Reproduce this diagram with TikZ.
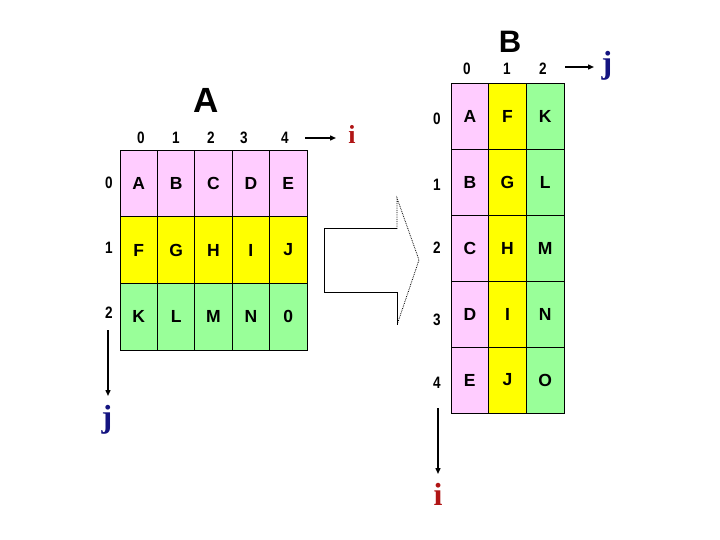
\documentclass[tikz,border=0pt]{standalone}
\usepackage{fontspec}
\setmainfont{Liberation Sans}
\newfontfamily\numfont[FakeStretch=0.82]{Liberation Sans}
\newfontfamily\serifb{Liberation Serif}
\usetikzlibrary{arrows.meta}
\definecolor{cpink}{HTML}{FFCCFF}
\definecolor{cyellow}{HTML}{FFFF00}
\definecolor{cgreen}{HTML}{99FF99}
\definecolor{cnavy}{HTML}{141480}
\definecolor{cred}{HTML}{B01515}
\colorlet{rowc0}{cpink}\colorlet{rowc1}{cyellow}\colorlet{rowc2}{cgreen}
\begin{document}
\begin{tikzpicture}[x=1pt,y=-1pt,
  cellA/.style={draw=black, line width=0.8pt, minimum width=37.4pt, minimum height=66.67pt, inner sep=0pt, font=\bfseries\fontsize{17.5}{17.5}\selectfont},
  cellB/.style={draw=black, line width=0.8pt, minimum width=37.67pt, minimum height=66pt, inner sep=0pt, font=\bfseries\fontsize{17.5}{17.5}\selectfont},
  idx/.style={inner sep=0pt, font=\numfont\bfseries\fontsize{16.5}{16.5}\selectfont},
  ttl/.style={inner sep=0pt, font=\bfseries\fontsize{#1}{#1}\selectfont},
  varI/.style={inner sep=0pt, text=cred, font=\serifb\bfseries\fontsize{#1}{#1}\selectfont},
  varJ/.style={inner sep=0pt, text=cnavy, font=\serifb\bfseries\fontsize{#1}{#1}\selectfont},
  arr/.style={line width=1.4pt, -{Triangle[length=6pt,width=5pt]}}]
\useasboundingbox (0,0) rectangle (720,540);

% ---------- matrix A ----------
\node[ttl=35] (tA) at (206,100) {A};
\foreach \t [count=\i from 0] in {A,B,C,D,E,F,G,H,I,J,K,L,M,N,0} {
  \pgfmathtruncatemacro\r{int(\i/5)}
  \pgfmathtruncatemacro\c{mod(\i,5)}
  \node[cellA, fill=rowc\r] (a\r\c) at ({120+37.4*\c+18.7},{150+66.67*\r+33.33}) {\t};
}
\foreach \n/\x in {0/141,1/176,2/211,3/244,4/285}
  \node[idx] (ac\n) at (\x,138) {\n};
\foreach \n/\y in {0/183,1/248,2/313}
  \node[idx] (ar\n) at (109,\y) {\n};

\node[varI=26] (iA) at (352,134) {i};
\coordinate (iA0) at (305,138);
\coordinate (iA1) at (336,138);
\draw[arr] (iA0) -- (iA1);

\node[varJ=32] (jA) at (107,420) {j};
\coordinate (jA0) at (108,330);
\coordinate (jA1) at (108,396);
\draw[arr] (jA0) -- (jA1);

% ---------- block arrow ----------
\coordinate (s0) at (324,229);
\coordinate (s1) at (397,229);
\coordinate (s3) at (324,292);
\coordinate (s4) at (397,292);
\coordinate (h1) at (397,198);
\coordinate (tip) at (419,260);
\coordinate (h2) at (397,325);
\draw[line width=1pt] (s1) -- (s0) -- (s3) -- (s4) -- (h2);
\draw[densely dotted, line width=0.8pt] (s1) -- (h1) -- (tip) -- (h2);

% ---------- matrix B ----------
\node[ttl=31] (tB) at (510,42) {B};
\foreach \t [count=\i from 0] in {A,F,K,B,G,L,C,H,M,D,I,N,E,J,O} {
  \pgfmathtruncatemacro\r{int(\i/3)}
  \pgfmathtruncatemacro\c{mod(\i,3)}
  \node[cellB, fill=rowc\c] (b\r\c) at ({451+37.67*\c+18.83},{83+66*\r+33}) {\t};
}
\foreach \n/\x in {0/467,1/507,2/543}
  \node[idx] (bc\n) at (\x,69) {\n};
\foreach \n/\y in {0/119,1/185,2/248,3/320,4/383}
  \node[idx] (br\n) at (437,\y) {\n};

\node[varJ=32] (jB) at (607,66) {j};
\coordinate (jB0) at (565,67);
\coordinate (jB1) at (594,67);
\draw[arr] (jB0) -- (jB1);

\node[varI=32] (iB) at (438,494) {i};
\coordinate (iB0) at (438,408);
\coordinate (iB1) at (438,474);
\draw[arr] (iB0) -- (iB1);
\end{tikzpicture}
\end{document}
